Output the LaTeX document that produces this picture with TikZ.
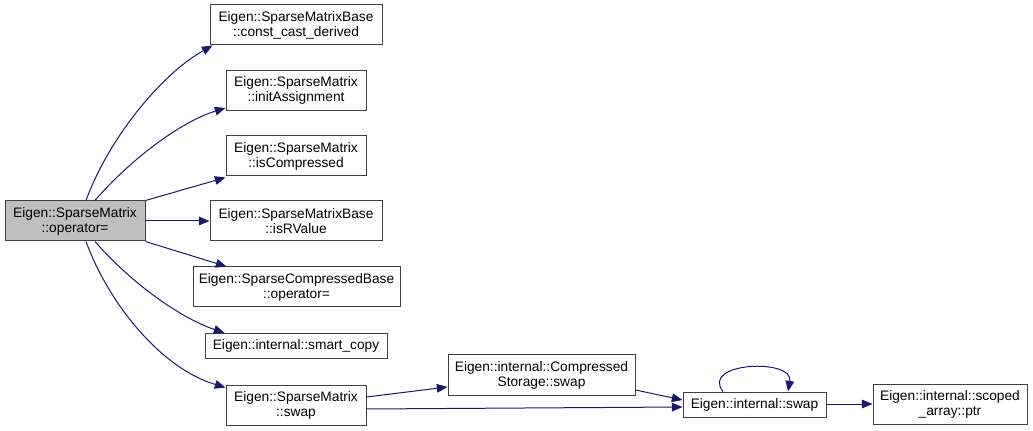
\documentclass[tikz,border=0pt]{standalone}
\usepackage{fontspec}
\setmainfont{Liberation Sans}
\usetikzlibrary{calc}
\usetikzlibrary{arrows.meta}
\tikzset{>={Triangle[length=8pt,width=6.5pt]}}
\definecolor{edgeblue}{HTML}{191970}
\definecolor{boxgray}{HTML}{404040}

\begin{document}
\begin{tikzpicture}[x=0.75pt,y=-0.75pt,
  fnbox/.style={draw=boxgray,line width=0.75pt,fill=white,inner sep=0pt,align=center,
    minimum height=30pt,font=\fontsize{10.3pt}{11.3pt}\selectfont},
  call/.style={->,draw=edgeblue,line width=0.75pt}]
  \useasboundingbox[fill=white] (0,0) rectangle (1033,431);
  \node[fnbox,fill={rgb,255:red,191;green,191;blue,191},minimum width=105pt] (op) at (75,221) {Eigen::SparseMatrix\\::operator=};
  \node[fnbox,minimum width=129pt] (ccd) at (296,25) {Eigen::SparseMatrixBase\\::const\_cast\_derived};
  \node[fnbox,minimum width=105pt] (init) at (296,90.5) {Eigen::SparseMatrix\\::initAssignment};
  \node[fnbox,minimum width=105pt] (iscomp) at (296,156) {Eigen::SparseMatrix\\::isCompressed};
  \node[fnbox,minimum width=129pt] (isrv) at (296,221) {Eigen::SparseMatrixBase\\::isRValue};
  \node[fnbox,minimum width=155.25pt] (scbop) at (296.5,287) {Eigen::SparseCompressedBase\\::operator=};
  \node[fnbox,minimum width=136.5pt,minimum height=19pt] (smart) at (296,346) {Eigen::internal::smart\_copy};
  \node[fnbox,minimum width=105pt] (smswap) at (296,405) {Eigen::SparseMatrix\\::swap};
  \node[fnbox,minimum width=140.25pt] (csswap) at (541.5,375) {Eigen::internal::Compressed\\Storage::swap};
  \node[fnbox,minimum width=107.25pt,minimum height=18.75pt] (iswap) at (754.5,404.5) {Eigen::internal::swap};
  \node[fnbox,minimum width=115.5pt] (ptr) at (950,404) {Eigen::internal::scoped\\\_array::ptr};

  % calls from operator=
  \draw[call] ($(op.north)+(11,0)$) .. controls (108,140) and (160,75) .. ($(ccd.south west)+(3,0)$);
  \draw[call] ($(op.north)+(20,0)$) .. controls (130,160) and (180,122) .. ($(init.south west)+(0,-3)$);
  \draw[call] (op.north east) -- ($(iscomp.south west)+(0,1)$);
  \draw[call] (op.east) -- (isrv.west);
  \draw[call] (op.south east) -- ($(scbop.north west)+(34,0)$);
  \draw[call] ($(op.south)+(20,0)$) .. controls (130,282) and (180,318) .. ($(smart.north west)+(20,0)$);
  \draw[call] ($(op.south)+(11,0)$) .. controls (108,302) and (160,368) .. ($(smswap.north west)+(0,3)$);

  % swaps
  \draw[call] ($(smswap.east)+(0,-8)$) -- ($(csswap.west)+(0,12)$);
  \draw[call] ($(smswap.east)+(0,4)$) -- ($(iswap.west)+(0,2.5)$);
  \draw[call] ($(csswap.east)+(0,15)$) -- ($(iswap.west)+(0,-4.5)$);
  \draw[call] ($(iswap.north)+(-31.5,0)$) .. controls (700,362) and (794,358) .. ($(iswap.north)+(33.5,0)$);
  \draw[call] ($(iswap.east)+(0,-0.5)$) -- (ptr.west);
\end{tikzpicture}
\end{document}
